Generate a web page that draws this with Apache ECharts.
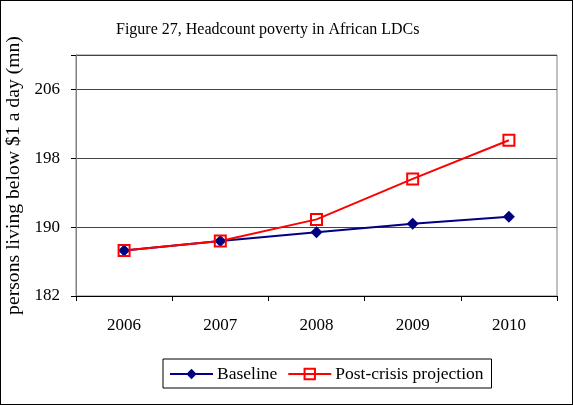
<!DOCTYPE html>
<html>
<head>
<meta charset="utf-8">
<script src="https://cdn.jsdelivr.net/npm/echarts@6/dist/echarts.min.js"></script>
<style>
html,body{margin:0;padding:0;background:#fff;}
#container{width:571px;height:403px;border:1px solid #000;}
</style>
</head>
<body>
<div id="container"></div>
<script>
var years = ['2006', '2007', '2008', '2009', '2010'];
var baseline = [187.3, 188.4, 189.4, 190.4, 191.2];
var postCrisis = [187.3, 188.4, 190.9, 195.6, 200.1];

var dom = document.getElementById("container");
var myChart = echarts.init(dom);
var font = 'Liberation Serif';

var option = {
    animation: false,
    title: {
        text: 'Figure 27, Headcount poverty in African LDCs',
        left: 110,
        top: 16,
        textStyle: {fontFamily: font, fontSize: 16, fontWeight: 'normal', color: '#000'}
    },
    legend: {
        data: ['Baseline', 'Post-crisis projection'],
        left: 162,
        top: 358,
        padding: [6, 8, 5, 6],
        itemGap: 10,
        itemWidth: 43,
        itemHeight: 13,
        borderColor: '#000',
        borderWidth: 1,
        textStyle: {fontFamily: font, fontSize: 17.5, color: '#000', padding: [0, 0, 0, -1]}
    },
    grid: {
        left: 75,
        right: 15,
        top: 54,
        bottom: 108,
        outerBoundsMode: 'none',
        show: true,
        borderColor: '#808080',
        borderWidth: 1
    },
    xAxis: {
        type: 'category',
        data: years,
        boundaryGap: true,
        axisLine: {lineStyle: {color: '#000'}},
        axisTick: {show: true, length: 5, lineStyle: {color: '#000'}},
        axisLabel: {fontFamily: font, fontSize: 17, color: '#000', margin: 21}
    },
    yAxis: {
        type: 'value',
        min: 182,
        max: 210,
        interval: 8,
        name: 'persons living below $1 a day (mn)',
        nameLocation: 'middle',
        nameGap: 43,
        nameTextStyle: {fontFamily: font, fontSize: 19.7, color: '#000', padding: [0, 0, 6, 0]},
        axisLine: {show: true, lineStyle: {color: '#808080'}},
        axisTick: {show: true, length: 5, lineStyle: {color: '#000'}},
        axisLabel: {
            fontFamily: font, fontSize: 17, color: '#000', margin: 16,
            formatter: function (v) { return v === 210 ? '' : v; }
        },
        splitLine: {lineStyle: {color: '#444', width: 1}}
    },
    series: [
        {
            name: 'Baseline',
            type: 'line',
            data: baseline,
            symbol: 'diamond',
            symbolSize: 12,
            itemStyle: {color: '#000080'},
            lineStyle: {color: '#000080', width: 2}
        },
        {
            name: 'Post-crisis projection',
            type: 'line',
            data: postCrisis,
            symbol: 'rect',
            symbolSize: 11,
            itemStyle: {color: 'rgba(255,255,255,0)', borderColor: '#ff0000', borderWidth: 2},
            lineStyle: {color: '#ff0000', width: 2}
        }
    ]
};

myChart.setOption(option);
</script>
</body>
</html>
